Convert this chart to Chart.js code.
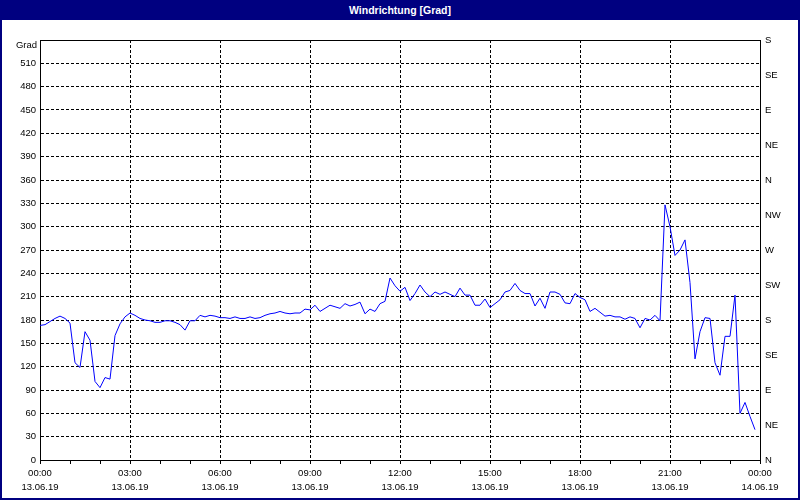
<!DOCTYPE html>
<html lang="de">

<head>
    <meta charset="UTF-8" />
    <title>Windrichtung</title>
    <script src="https://cdn.jsdelivr.net/npm/chart.js"></script>
    <style>
        body { margin: 0; background: #fff; }
        #fenster { position: relative; width: 800px; height: 500px; background: #fff; overflow: hidden; }
        #grafico { position: absolute; left: 0; top: 0; }
        #titel {
            position: absolute; left: 0; top: 0; width: 800px; height: 20px;
            background: #000080; color: #fff; text-align: center;
            font: bold 10.5px "Liberation Sans", Arial, sans-serif; line-height: 20px;
        }
        #rahmen {
            position: absolute; left: 0; top: 0; width: 800px; height: 500px;
            box-sizing: border-box; border: 2px solid #000080; pointer-events: none;
        }
    </style>
</head>

<body>
    <div id="fenster">
        <canvas id="grafico" width="800" height="500"></canvas>
        <div id="titel">Windrichtung [Grad]</div>
        <div id="rahmen"></div>
    </div>

<script>
    // Messwerte alle 10 Minuten, 13.06.19 00:00 bis 23:50
    var intervallMin = 10;
    var richtung = [
        173, 174, 178, 182, 185, 182, 176, 125, 119, 165, 154, 101, 93, 106, 104, 160, 175, 184, 189, 186,
        182, 180, 179, 177, 177, 179, 179, 177, 174, 167, 179, 179, 186, 184, 186,
        185, 183, 183, 182, 184, 182, 182, 184, 182, 183, 186, 188, 189, 191, 189, 188, 189, 189, 194, 193,
        199, 191, 195, 199, 197, 195, 201, 198, 200, 203, 188, 194, 191, 201, 204, 234, 224, 217,
        222, 205, 214, 225, 216, 210, 216, 213, 216, 213, 210, 221, 212, 212, 199, 199, 207, 196, 201, 206,
        216, 218, 227, 218, 214, 214, 198, 208, 195, 216, 216, 213, 202, 201, 214, 209, 206, 191, 195, 190,
        185, 186, 184, 184, 181, 184, 182, 170, 182, 180, 186, 179,
        328, 300, 263, 270, 283, 228, 130, 165, 183, 182, 125, 109, 159, 159, 212, 60, 74, 56, 39
    ];

    var zeitLabels = ['00:00', '03:00', '06:00', '09:00', '12:00', '15:00', '18:00', '21:00', '00:00'];
    var datumLabels = ['13.06.19', '13.06.19', '13.06.19', '13.06.19', '13.06.19', '13.06.19', '13.06.19', '13.06.19', '14.06.19'];
    var himmelsrichtung = ['N', 'NE', 'E', 'SE', 'S', 'SW', 'W', 'NW', 'N', 'NE', 'E', 'SE', 'S'];

    var punkte = [];
    for (var i = 0; i < richtung.length; i++) {
        punkte.push({ x: i * intervallMin, y: richtung[i] });
    }

    var schrift = { family: 'Liberation Sans', size: 9.5 };
    var strich = [3, 2];

    // obere Rahmenlinie und "Grad"
    const rahmenPlugin = {
        id: 'rahmenPlugin',
        afterDraw(chart) {
            const ctx = chart.ctx;
            const a = chart.chartArea;
            ctx.save();
            ctx.strokeStyle = '#000';
            ctx.lineWidth = 1;
            ctx.beginPath();
            ctx.moveTo(a.left, a.top + 0.5);
            ctx.lineTo(a.right, a.top + 0.5);
            ctx.stroke();
            ctx.fillStyle = '#000';
            ctx.font = '9.5px "Liberation Sans"';
            ctx.textAlign = 'right';
            ctx.textBaseline = 'middle';
            ctx.fillText('Grad', a.left - 3, a.top + 5);
            ctx.restore();
        }
    };

    new Chart(document.getElementById('grafico'), {
        type: 'line',
        data: {
            datasets: [{
                label: 'Windrichtung',
                data: punkte,
                borderColor: '#0000ff',
                borderWidth: 1,
                pointRadius: 0,
                tension: 0,
                fill: false
            }]
        },
        options: {
            responsive: false,
            animation: false,
            devicePixelRatio: 1,
            layout: { padding: { top: 40, left: 0, right: 0, bottom: 0 } },
            plugins: {
                legend: { display: false },
                tooltip: { enabled: false }
            },
            scales: {
                x: {
                    type: 'linear',
                    min: 0,
                    max: 1440,
                    afterFit: function (s) { s.height = 40; },
                    afterBuildTicks: function (s) {
                        s.ticks = [];
                        for (var m = 0; m <= 1440; m += 60) s.ticks.push({ value: m });
                    },
                    ticks: {
                        autoSkip: false,
                        maxRotation: 0,
                        padding: 3,
                        color: '#000',
                        font: { family: 'Liberation Sans', size: 9.5, lineHeight: 1.4 },
                        callback: function (v) {
                            if (v % 180 !== 0) return '';
                            var k = v / 180;
                            return [zeitLabels[k], datumLabels[k]];
                        }
                    },
                    grid: {
                        color: function (c) { return c.tick && c.tick.value % 180 === 0 ? '#000' : 'rgba(0,0,0,0)'; },
                        tickColor: '#000',
                        tickLength: 4,
                        lineWidth: 1
                    },
                    border: { display: true, color: '#000', width: 1, dash: strich }
                },
                y: {
                    position: 'left',
                    min: 0,
                    max: 540,
                    afterFit: function (s) { s.width = 40; },
                    ticks: {
                        stepSize: 30,
                        padding: 4,
                        color: '#000',
                        font: schrift,
                        callback: function (v) { return v === 540 ? null : v; }
                    },
                    grid: { color: '#000', drawTicks: false, lineWidth: 1 },
                    border: { display: true, color: '#000', width: 1, dash: strich }
                },
                y2: {
                    position: 'right',
                    min: 0,
                    max: 540,
                    afterFit: function (s) { s.width = 40; },
                    ticks: {
                        stepSize: 45,
                        padding: 5,
                        color: '#000',
                        font: schrift,
                        callback: function (v) { return himmelsrichtung[v / 45]; }
                    },
                    grid: { display: false, drawTicks: false },
                    border: { display: true, color: '#000', width: 1 }
                }
            }
        },
        plugins: [rahmenPlugin]
    });
</script>
</body>

</html>
